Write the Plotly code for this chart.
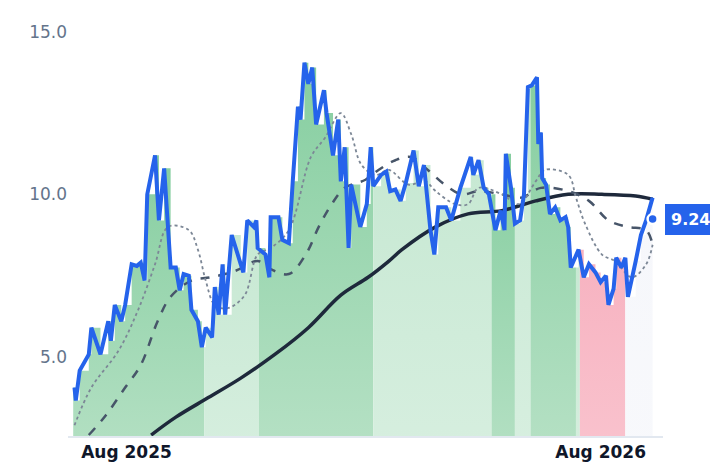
import plotly.graph_objects as go
import pandas as pd

start = pd.Timestamp("2025-06-21")

price_days = [1,2,5,12,14,21,27,29,32,37,40,45,49,52,55,57,63,66,70,75,79,82,85,89,91,96,99,102,107,109,112,115,117,122,129,131,134,139,141,142,148,151,152,158,161,166,169,173,175,178,181,184,187,193,195,200,204,206,209,212,214,221,226,229,231,237,241,244,248,252,256,262,266,270,275,278,281,287,291,298,306,308,312,316,320,325,329,332,333,337,340,344,347,350,353,357,358,360,361,364,367,371,375,379,381,383,389,393,397,402,406,410,412,416,418,422,425,427,433,437,441,445,446]
price_vals = [4.06,3.66,4.58,5.08,5.9,5.08,6.1,5.5,6.6,6.1,6.6,7.85,7.8,7.9,7.35,10.0,11.2,9.2,10.8,7.75,7.75,7.05,7.55,7.5,6.45,6.1,5.3,5.9,5.6,7.15,6.3,7.85,6.3,8.75,7.85,7.6,9.2,9.0,9.2,8.35,8.15,7.45,9.3,9.3,8.6,8.5,10.4,12.7,12.3,14.05,13.4,13.9,12.15,13.2,12.5,11.2,12.3,10.4,11.45,8.35,10.3,9.0,9.7,11.45,10.25,10.6,10.7,10.1,10.15,9.8,10.35,11.35,10.25,10.9,8.9,8.15,9.6,9.6,9.2,10.2,11.15,10.6,11.05,10.2,10.0,8.9,9.5,8.9,11.25,10.2,9.1,9.2,10.0,13.3,13.35,13.6,11.55,11.9,10.5,10.3,9.4,9.6,9.2,9.3,9.0,7.75,8.3,7.45,7.85,7.6,7.3,7.5,6.6,7.1,8.05,7.75,8.05,6.85,7.95,8.75,9.2,9.8,9.9]

short_days = [1,14,35,50,63,73,89,96,102,109,119,132,142,152,166,183,194,206,214,222,233,243,258,271,279,294,304,312,330,343,356,363,381,387,394,407,417,430,441,446]
short_vals = [2.9,4.06,5.2,6.45,7.85,9.0,8.9,8.3,7.35,6.6,6.5,6.9,8.15,8.35,8.9,11.15,11.75,12.5,11.85,10.9,10.6,10.75,10.3,10.4,10.1,9.7,9.7,10.2,10.0,9.7,10.4,10.75,10.6,9.9,9.1,8.15,7.95,7.45,7.85,8.45]

mid_days = [12,25,40,52,65,75,91,106,125,142,152,166,179,189,199,209,225,235,248,260,273,286,299,312,330,345,360,381,397,412,427,441,446]
mid_vals = [2.6,3.2,4.06,4.75,6.1,6.85,7.35,7.45,7.65,7.95,7.7,7.55,8.15,9.0,9.7,10.2,10.45,10.75,11.05,11.15,10.75,10.3,10.0,10.1,10.0,9.9,10.2,10.1,9.8,9.2,9.0,8.9,8.45]

long_days = [60,79,104,129,156,181,206,227,243,253,279,304,330,356,381,407,433,446]
long_vals = [2.6,3.15,3.75,4.35,5.1,5.9,6.9,7.45,7.95,8.3,9.0,9.4,9.5,9.8,10.0,10.0,9.95,9.85]

regime_bounds = [0,101,143,231,322,340,352,387,390,425,446]
regime_kind = ["strong","mild","strong","mild","strong","mild","strong","mild","bear","neutral"]
last_value = 9.24

kind_colors = {
    "strong": ("rgba(134,206,160,1)", "rgba(190,228,203,1)"),
    "mild": ("rgba(198,232,210,1)", "rgba(218,240,226,1)"),
    "bear": ("rgba(247,178,192,1)", "rgba(250,200,210,1)"),
    "neutral": ("rgba(246,247,251,1)", "rgba(248,249,252,1)"),
}

d = lambda arr: [start + pd.Timedelta(days=int(v)) for v in arr]

fig = go.Figure()

def val_at(day):
    v = price_vals[0]
    for pd_, pv in zip(price_days, price_vals):
        if pd_ <= day:
            v = pv
    return v

for i, kind in enumerate(regime_kind):
    a, b = regime_bounds[i], regime_bounds[i+1]
    xs = [a] + [p for p in price_days if a < p < b] + [b]
    ys = [val_at(a)] + [val_at(p) for p in price_days if a < p < b] + [val_at(b - 0.01)]
    top, bot = kind_colors[kind]
    fig.add_trace(go.Scatter(
        x=d(xs), y=ys, mode="lines", line=dict(width=0, shape="hv"),
        fill="tozeroy",
        fillgradient=dict(type="vertical", colorscale=[[0, bot], [1, top]]),
        hoverinfo="skip", showlegend=False))

fig.add_trace(go.Scatter(x=d(long_days), y=long_vals, mode="lines",
                         line=dict(color="#1e293b", width=3.5, shape="spline"), showlegend=False))
fig.add_trace(go.Scatter(x=d(mid_days), y=mid_vals, mode="lines",
                         line=dict(color="#475569", width=2.5, dash="dash", shape="spline"), showlegend=False))
fig.add_trace(go.Scatter(x=d(short_days), y=short_vals, mode="lines",
                         line=dict(color="#7c8796", width=1.8, dash="dot", shape="spline"), showlegend=False))
fig.add_trace(go.Scatter(x=d(price_days), y=price_vals, mode="lines",
                         line=dict(color="#2563eb", width=4), showlegend=False))
fig.add_trace(go.Scatter(x=d([price_days[-1]]), y=[last_value], mode="markers",
                         marker=dict(color="#2563eb", size=10, line=dict(color="white", width=2.5)),
                         showlegend=False, cliponaxis=False))

fig.add_annotation(x=d([price_days[-1]])[0], y=last_value, text="<b>9.24</b>", showarrow=False,
                   xanchor="left", xshift=12, bgcolor="#2563eb", bordercolor="#2563eb",
                   borderpad=5, font=dict(color="white", size=16, family="DejaVu Sans"))

fig.update_layout(
    width=718, height=464, margin=dict(l=60, r=63, t=14, b=36, autoexpand=False),
    paper_bgcolor="white", plot_bgcolor="white",
    font=dict(family="DejaVu Sans"),
    xaxis=dict(range=d([-4, 454]), showgrid=False, zeroline=False, automargin=False,
               tickvals=[pd.Timestamp("2025-08-01"), pd.Timestamp("2026-08-01")],
               ticktext=["<b>Aug 2025</b>", "<b>Aug 2026</b>"],
               tickfont=dict(size=17, color="#0f172a"),
               showline=True, linecolor="#e2e8f0", linewidth=2, ticks=""),
    yaxis=dict(range=[2.57, 15.3], showgrid=False, zeroline=False, automargin=False,
               tickvals=[5, 10, 15], ticktext=["5.0", "10.0", "15.0"],
               tickfont=dict(size=17, color="#64748b"), ticks=""),
)

fig.write_html("out.html")
